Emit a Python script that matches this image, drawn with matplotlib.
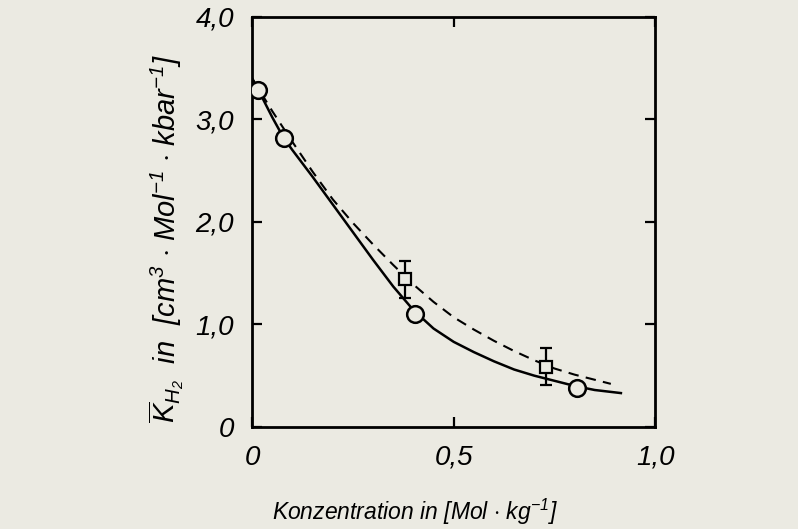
import numpy as np
import matplotlib
matplotlib.use("Agg")
import matplotlib.pyplot as plt

plt.rcParams['font.family'] = ['Liberation Sans', 'DejaVu Sans']
plt.rcParams['mathtext.fontset'] = 'custom'
plt.rcParams['mathtext.rm'] = 'Liberation Sans:italic'
plt.rcParams['mathtext.it'] = 'Liberation Sans:italic'

# measured points (circles)
conc_circ = [0.015, 0.078, 0.405, 0.805]
k_circ = [3.29, 2.82, 1.10, 0.38]

# measured points with error bars (squares)
conc_sq = [0.38, 0.73]
k_sq = [1.44, 0.585]
k_sq_err = [0.18, 0.18]

# solid curve
conc_solid = [0.0, 0.015, 0.05, 0.078, 0.10, 0.15, 0.20, 0.25, 0.30, 0.35,
              0.40, 0.45, 0.50, 0.55, 0.60, 0.65, 0.70, 0.75, 0.80, 0.85, 0.915]
k_solid = [3.40, 3.29, 3.02, 2.82, 2.70, 2.44, 2.17, 1.90, 1.63, 1.37,
           1.14, 0.96, 0.83, 0.73, 0.64, 0.56, 0.50, 0.45, 0.40, 0.36, 0.33]

# dashed curve
conc_dash = [0.0, 0.05, 0.10, 0.15, 0.20, 0.25, 0.30, 0.35, 0.40, 0.45,
             0.50, 0.55, 0.60, 0.65, 0.70, 0.75, 0.80, 0.85, 0.89]
k_dash = [3.40, 3.08, 2.78, 2.49, 2.22, 1.99, 1.78, 1.58, 1.39, 1.22,
          1.07, 0.95, 0.84, 0.74, 0.65, 0.57, 0.51, 0.46, 0.42]

xticks = [0, 0.5, 1.0]
xticklabels = ['0', '0,5', '1,0']
yticks = [0, 1, 2, 3, 4]
yticklabels = ['0', '1,0', '2,0', '3,0', '4,0']

paper = '#ebeae2'
fig = plt.figure(figsize=(7.98, 5.29), dpi=100, facecolor=paper)
ax = fig.add_axes([0.316, 0.193, 0.505, 0.775], facecolor=paper)

ax.plot(conc_solid, k_solid, '-', color='black', lw=1.8, zorder=2)
ax.plot(conc_dash, k_dash, '--', color='black', lw=1.5, dashes=(5, 3.5), zorder=2)
ax.errorbar(conc_sq, k_sq, yerr=k_sq_err, fmt='s', ms=9, mfc=paper, mec='black',
            mew=1.6, ecolor='black', elinewidth=1.6, capsize=4, capthick=1.6, zorder=3)
ax.plot(conc_circ, k_circ, 'o', ms=12, mfc=paper, mec='black', mew=1.8, zorder=4)

ax.set_xlim(0, 1.0)
ax.set_ylim(0, 4.0)
for s in ax.spines.values():
    s.set_linewidth(2.0)

ax.set_xticks(xticks)
ax.set_xticklabels(xticklabels, fontsize=20, style='italic')
ax.set_yticks(yticks)
ax.set_yticklabels(yticklabels, fontsize=20, style='italic')
ax.tick_params(direction='in', length=7, width=1.6, top=True, right=True, pad=13)

ax.set_xlabel('Konzentration in [Mol $\\cdot$ kg$^{-1}$]', fontsize=16.5, style='italic')
ax.xaxis.set_label_coords(0.405, -0.17)
ax.set_ylabel('$\\overline{K}_{H_{2}}$  in  [cm$^{3}$ $\\cdot$ Mol$^{-1}$ $\\cdot$ kbar$^{-1}$]',
              fontsize=21, style='italic')
ax.yaxis.set_label_coords(-0.165, 0.46)

fig.savefig('out.png', dpi=100, facecolor=paper)
